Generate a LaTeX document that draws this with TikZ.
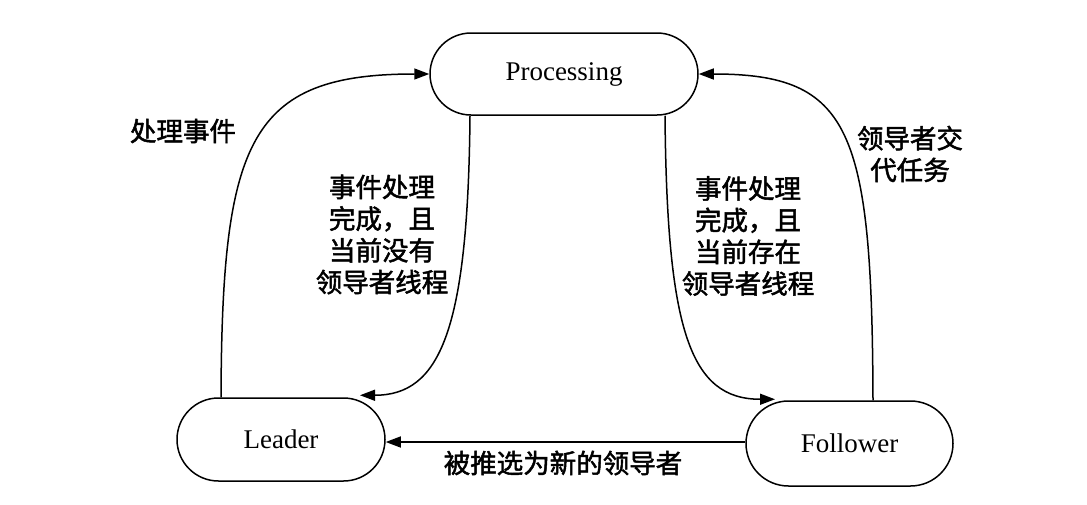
\documentclass[tikz,border=0pt]{standalone}
\usepackage{fontspec}
\setmainfont{Liberation Serif}
\newfontfamily\cjk[FakeBold=1.8]{Noto Sans CJK SC}
\usetikzlibrary{shapes.misc,arrows.meta,calc}
\tikzset{
  state/.style={draw, line width=1.5pt, rounded rectangle, inner sep=0pt,
    font=\fontsize{27}{30}\selectfont},
  arr/.style={line width=1.5pt, -{Triangle[length=15pt,width=11pt]}},
  lbl/.style={align=center, inner sep=0pt, font=\cjk\fontsize{26.5}{31.7}\selectfont},
}
\begin{document}
\begin{tikzpicture}[x=1pt,y=-1pt]
\useasboundingbox (0,0) rectangle (1087,504);
\node[state, minimum width=268pt, minimum height=82pt] (P) at (564,74) {Processing};
\node[state, minimum width=208pt, minimum height=83pt] (L) at (281,439.5) {Leader};
\node[state, minimum width=207pt, minimum height=85pt] (F) at (849.5,443.5) {Follower};

\coordinate (ls) at ($(L.north)+(-60,0)$);
\coordinate (rs) at ($(F.north)+(23.5,0)$);
\coordinate (pl) at ($(P.south)+(-94,0)$);
\coordinate (pr) at ($(P.south)+(101,0)$);
\coordinate (lt) at ($(L.north)+(79,-2)$);
\coordinate (ft) at ($(F.north)+(-74.5,-1)$);

\draw[arr] (ls) .. controls ($(ls)+(1,-257)$) and ($(P.west)+(-180,0)$) .. (P.west);
\draw[arr] (rs) .. controls ($(rs)+(-1,-272)$) and ($(P.east)+(152,0)$) .. (P.east);
\draw[arr] (pl) .. controls ($(pl)+(-2,215)$) and ($(lt)+(80,0)$) .. (lt);
\draw[arr] (pr) .. controls ($(pr)+(2,215)$) and ($(ft)+(-85,0)$) .. (ft);
\draw[arr] ($(F.west)+(0,-1.5)$) -- ($(F.west -| L.east)+(0,-1.5)$);

\node[lbl] (t1) at (183,131) {处理事件};
\node[lbl] (t2) at (910,154) {领导者交\\代任务};
\node[lbl] (t3) at (382,234.5) {事件处理\\完成，且\\当前没有\\领导者线程};
\node[lbl] (t4) at (748,236) {事件处理\\完成，且\\当前存在\\领导者线程};
\node[lbl] (t5) at (563,463) {被推选为新的领导者};
\end{tikzpicture}
\end{document}
